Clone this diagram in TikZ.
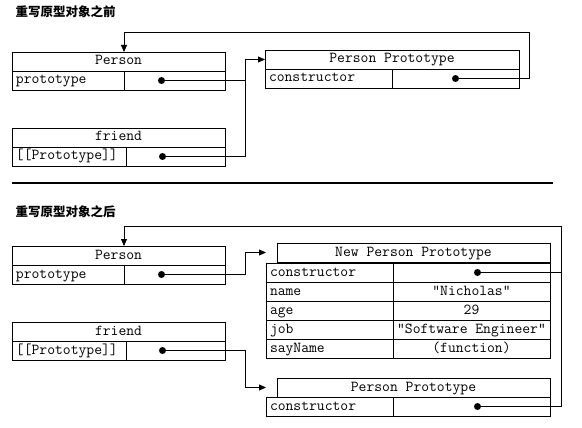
\documentclass[tikz,border=0pt]{standalone}
\usepackage{fontspec}
\newfontfamily\cjk{Noto Sans CJK SC}
\usetikzlibrary{positioning,arrows.meta}

\tikzset{
	cell/.style={draw, line width=0.9pt, outer sep=0pt, inner xsep=2pt, inner ysep=0pt,
		minimum height=19pt, text height=9.5pt, text depth=2.5pt,
		font=\ttfamily\fontsize{15.2}{16}\selectfont},
	hdr/.style={cell, minimum width=#1, anchor=north west},
	key/.style={cell, inner xsep=4pt, text width=#1, align=left},
	val/.style={cell, minimum width=#1},
	dot/.style={circle, fill, inner sep=0pt, minimum size=7pt},
	title/.style={anchor=west, font=\cjk\bfseries\fontsize{12.5}{14}\selectfont},
	link/.style={line width=0.8pt}
}

\begin{document}
\begin{tikzpicture}[x=1pt, y=-1pt, >={Triangle[length=7pt,width=6pt]}]
	\useasboundingbox (0,0) rectangle (582,428);

	% before
	\node[title] (t1) at (12,12) {重写原型对象之前};

	\node[hdr=213pt] (ph) at (12,52) {Person};
	\node[key=104pt, below right=0pt and 0pt of ph.south west] (pk) {prototype};
	\node[val=101pt, right=0pt of pk] (pv) {};
	\node[dot] (pd) at ([xshift=-13pt]pv.center) {};

	\node[hdr=213pt] (fh) at (12,128) {friend};
	\node[key=106pt, below right=0pt and 0pt of fh.south west] (fk) {[[Prototype]]};
	\node[val=99pt, right=0pt of fk] (fv) {};
	\node[dot] (fd) at ([xshift=-13pt]fv.center) {};

	\node[hdr=254pt] (qh) at (265,50) {Person Prototype};
	\node[key=119pt, below right=0pt and 0pt of qh.south west] (qk) {constructor};
	\node[val=127pt, right=0pt of qk] (qv) {};
	\node[dot] (qd) at (qv.center) {};

	\coordinate (ja) at ([xshift=-20pt]qh.west);
	\coordinate (ra) at (529,32);
	\draw[link] (pd) -| (ja);
	\draw[link, ->] (fd) -| (ja) -- (qh.west);
	\draw[link, ->] (qd) -| (ra) -| (pk.east |- ph.north);

	\draw[line width=1.6pt] (12,183) -- (553,183);

	% after
	\node[title] (t2) at (12,212) {重写原型对象之后};

	\node[hdr=213pt] (Ph) at (12,246) {Person};
	\node[key=104pt, below right=0pt and 0pt of Ph.south west] (Pk) {prototype};
	\node[val=101pt, right=0pt of Pk] (Pv) {};
	\node[dot] (Pd) at ([xshift=-13pt]Pv.center) {};

	\node[hdr=213pt] (Fh) at (12,322) {friend};
	\node[key=106pt, below right=0pt and 0pt of Fh.south west] (Fk) {[[Prototype]]};
	\node[val=99pt, right=0pt of Fk] (Fv) {};
	\node[dot] (Fd) at ([xshift=-13pt]Fv.center) {};

	\node[hdr=273pt] (nh) at (277,243) {New Person Prototype};
	\node[key=119pt, anchor=north west] (nk1) at (266,263) {constructor};
	\node[val=157pt, right=0pt of nk1] (nv1) {};
	\node[key=119pt, below=0pt of nk1] (nk2) {name};
	\node[val=157pt, right=0pt of nk2] (nv2) {"Nicholas"};
	\node[key=119pt, below=0pt of nk2] (nk3) {age};
	\node[val=157pt, right=0pt of nk3] (nv3) {29};
	\node[key=119pt, below=0pt of nk3] (nk4) {job};
	\node[val=157pt, right=0pt of nk4] (nv4) {"Software Engineer"};
	\node[key=119pt, below=0pt of nk4] (nk5) {sayName};
	\node[val=157pt, right=0pt of nk5] (nv5) {(function)};
	\node[dot] (nd) at ([xshift=6pt]nv1.center) {};

	\node[hdr=273pt] (bh) at (277,378) {Person Prototype};
	\node[key=119pt, anchor=north west] (bk) at (266,397) {constructor};
	\node[val=157pt, right=0pt of bk] (bv) {};
	\node[dot] (bd) at ([xshift=6pt]bv.center) {};

	\coordinate (rb) at (561,226);
	\coordinate (jb) at ([xshift=-21pt]nk1.west |- nh.west);
	\coordinate (jc) at ([xshift=-21pt]bk.west |- bh.west);
	\draw[link] (nd) -| (rb);
	\draw[link, ->] (bd) -| (rb) -| (Pk.east |- Ph.north);
	\draw[link, ->] (Pd) -| (jb) -- (nk1.west |- nh.west);
	\draw[link, ->] (Fd) -| (jc) -- (bk.west |- bh.west);
\end{tikzpicture}
\end{document}
